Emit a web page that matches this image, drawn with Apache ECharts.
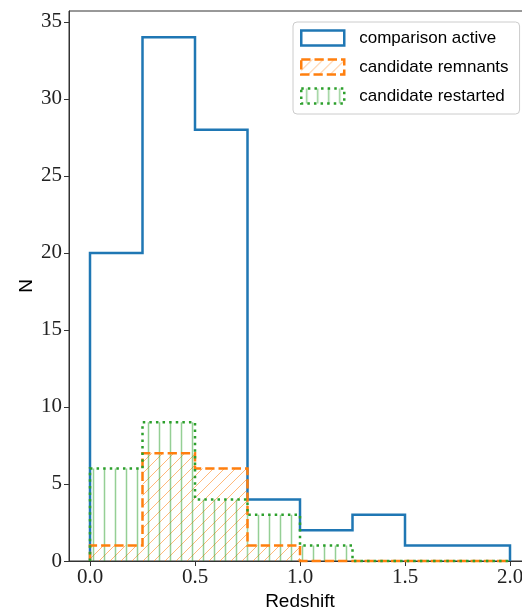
<!DOCTYPE html>
<html><head><meta charset="utf-8">
<script src="https://cdn.jsdelivr.net/npm/echarts@6/dist/echarts.min.js"></script>
<style>html,body{margin:0;padding:0;background:#fff}#c{width:522px;height:611px}</style>
</head><body><div id="c"></div>
<script>
// ---- data ----
const binEdges = [0, 0.25, 0.5, 0.75, 1.0, 1.25, 1.5, 1.75, 2.0];
const comparisonActive   = [20, 34, 28, 4, 2, 3, 1, 1];
const candidateRemnants  = [1, 7, 6, 1, 0, 0, 0, 0];
const candidateRestarted = [6, 9, 4, 3, 1, 0, 0, 0];
const seriesNames = ['comparison active', 'candidate remnants', 'candidate restarted'];
const xTickValues = [0, 0.5, 1.0, 1.5, 2.0];
const xTickLabels = ['0.0', '0.5', '1.0', '1.5', '2.0'];
const yTickValues = [0, 5, 10, 15, 20, 25, 30, 35];
const yTickLabels = ['0', '5', '10', '15', '20', '25', '30', '35'];

// ---- styles ----
const BLUE = '#1f77b4', ORANGE = '#ff7f0e', GREEN = '#2ca02c';
const LW = 2.5;
const DASHED = [9.25, 4];
const DOTTED = [2.5, 4.1];

function makeHatch(kind, color, lw) {
  const s = 11;
  const c = document.createElement('canvas');
  c.width = s; c.height = s;
  const g = c.getContext('2d');
  g.strokeStyle = color; g.lineWidth = lw;
  g.beginPath();
  if (kind === '/') {
    g.moveTo(-s, s); g.lineTo(s, -s);
    g.moveTo(0, s); g.lineTo(s, 0);
    g.moveTo(0, 2 * s); g.lineTo(2 * s, 0);
  } else {
    g.moveTo(s / 2, 0); g.lineTo(s / 2, s);
  }
  g.stroke();
  return { image: c, repeat: 'repeat' };
}
const hatchOrange = makeHatch('/', 'rgba(255,127,14,0.55)', 1);
const hatchGreen = makeHatch('|', 'rgba(44,160,44,0.5)', 1.5);

function hatchSeries(name, counts, pattern) {
  return {
    type: 'custom', name: name, silent: true, animation: false,
    data: counts.map((c, i) => [binEdges[i], binEdges[i + 1], c]),
    encode: { x: [0, 1], y: 2 },
    renderItem: function (params, api) {
      if (!pattern) return { type: 'group', children: [] };
      const a = api.coord([api.value(0), api.value(2)]);
      const b = api.coord([api.value(1), 0]);
      return { type: 'rect', shape: { x: a[0], y: a[1], width: b[0] - a[0], height: b[1] - a[1] },
               style: { fill: pattern } };
    }
  };
}
function outlineSeries(name, counts, color, dash) {
  const pts = [[binEdges[0], 0]];
  counts.forEach((c, i) => { pts.push([binEdges[i], c]); pts.push([binEdges[i + 1], c]); });
  pts.push([binEdges[binEdges.length - 1], 0]);
  return {
    type: 'line', name: name + ' edge', data: pts, symbol: 'none', showSymbol: false,
    clip: false, silent: true, animation: false, emphasis: { disabled: true },
    lineStyle: { color: color, width: LW, type: dash, join: 'miter', cap: 'butt' },
    itemStyle: { color: color }
  };
}

const chart = echarts.init(document.getElementById('c'), null, { renderer: 'canvas' });
chart.setOption({
  animation: false,
  backgroundColor: '#fff',
  grid: { left: 69, top: 11, right: -9, bottom: 50, show: true, borderColor: '#333', borderWidth: 1,
          backgroundColor: 'transparent', containLabel: false, outerBoundsMode: 'none' },
  xAxis: {
    type: 'value', min: -0.1, max: 2.1,
    axisLine: { show: true, onZero: false, lineStyle: { color: '#333', width: 1 } },
    axisTick: { show: true, length: 5, customValues: xTickValues, lineStyle: { color: '#333' } },
    axisLabel: { customValues: xTickValues, formatter: v => xTickLabels[xTickValues.indexOf(v)],
                 fontFamily: 'Liberation Serif', fontSize: 21, color: '#222', margin: 6 },
    splitLine: { show: false },
    name: 'Redshift', nameLocation: 'middle', nameGap: 31, nameMoveOverlap: false,
    nameTextStyle: { fontFamily: 'Liberation Sans', fontSize: 19, color: '#000' }
  },
  yAxis: {
    type: 'value', min: 0, max: 35.7,
    axisLine: { show: true, onZero: false, lineStyle: { color: '#333', width: 1 } },
    axisTick: { show: true, length: 5, customValues: yTickValues, lineStyle: { color: '#333' } },
    axisLabel: { customValues: yTickValues, formatter: v => yTickLabels[yTickValues.indexOf(v)],
                 fontFamily: 'Liberation Serif', fontSize: 21, color: '#222', margin: 7 },
    splitLine: { show: false },
    name: 'N', nameLocation: 'middle', nameGap: 33, nameRotate: 90, nameMoveOverlap: false,
    nameTextStyle: { fontFamily: 'Liberation Sans', fontSize: 19, color: '#000' }
  },
  legend: {
    orient: 'vertical', left: 293, top: 22, selectedMode: false,
    itemWidth: 43, itemHeight: 15, itemGap: 9,
    padding: [6, 11, 8, 7], borderColor: '#ccc', borderWidth: 1, borderRadius: 4,
    backgroundColor: 'rgba(255,255,255,0.8)',
    textStyle: { fontFamily: 'Liberation Sans', fontSize: 17, color: '#000', lineHeight: 20, padding: [0, 0, 0, 10] },
    data: [
      { name: seriesNames[0], icon: 'rect',
        itemStyle: { color: 'rgba(255,255,255,0)', borderColor: BLUE, borderWidth: LW, borderType: 'solid' } },
      { name: seriesNames[1], icon: 'rect',
        itemStyle: { color: hatchOrange, borderColor: ORANGE, borderWidth: LW, borderType: DASHED } },
      { name: seriesNames[2], icon: 'rect',
        itemStyle: { color: hatchGreen, borderColor: GREEN, borderWidth: LW, borderType: DOTTED } }
    ]
  },
  series: [
    hatchSeries(seriesNames[0], comparisonActive, null),
    outlineSeries(seriesNames[0], comparisonActive, BLUE, 'solid'),
    hatchSeries(seriesNames[1], candidateRemnants, hatchOrange),
    outlineSeries(seriesNames[1], candidateRemnants, ORANGE, DASHED),
    hatchSeries(seriesNames[2], candidateRestarted, hatchGreen),
    outlineSeries(seriesNames[2], candidateRestarted, GREEN, DOTTED)
  ]
});
</script>
</body></html>
